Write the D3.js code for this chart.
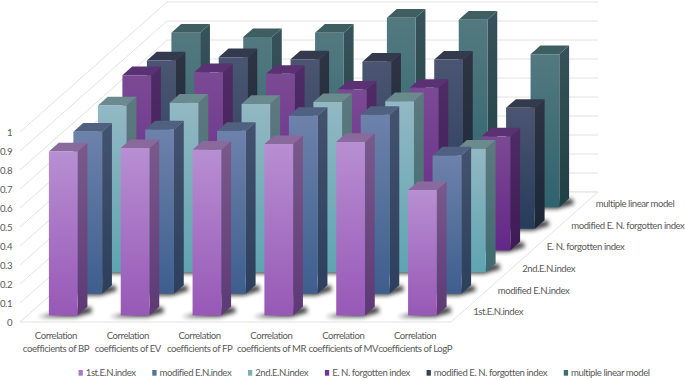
<!DOCTYPE html>
<html>
<head>
<meta charset="utf-8">
<script src="https://cdn.jsdelivr.net/npm/d3@7"></script>
<style>
  html, body { margin: 0; background: #fff; }
  text { font-family: Lato, "Open Sans", sans-serif; fill: #5a5a5a; font-size: 9.6px; letter-spacing: -0.45px; }
</style>
</head>
<body>
<div id="chart"></div>
<script>
const widthValue = 685;
const heightValue = 380;

const categories = ["BP", "EV", "FP", "MR", "MV", "LogP"];
const seriesNames = ["1st.E.N.index", "modified E.N.index", "2nd.E.N.index", "E. N. forgotten index", "modified E. N. forgotten index", "multiple linear model"];
const yTicks = [0, 0.1, 0.2, 0.3, 0.4, 0.5, 0.6, 0.7, 0.8, 0.9, 1];

const firstIndex = [0.863, 0.881, 0.873, 0.902, 0.913, 0.66];
const modifiedIndex = [0.853, 0.865, 0.858, 0.937, 0.942, 0.728];
const secondIndex = [0.877, 0.892, 0.885, 0.895, 0.90, 0.65];
const forgottenIndex = [0.923, 0.938, 0.93, 0.847, 0.856, 0.60];
const modifiedForgotten = [0.886, 0.903, 0.892, 0.88, 0.891, 0.637];
const linearModel = [0.918, 0.895, 0.918, 0.997, 0.987, 0.805];
const seriesValues = [firstIndex, modifiedIndex, secondIndex, forgottenIndex, modifiedForgotten, linearModel];

// front, side, top colours: [upper, lower]
const frontColors = [["#b88fd2", "#9758b6"], ["#6d82ab", "#3e5e8e"], ["#92b8c3", "#5fa4b1"], ["#7b4a94", "#632788"], ["#4b5572", "#273b5b"], ["#53797f", "#2e636f"]];
const sideColors = [["#7a5a8c", "#5d3975"], ["#44526e", "#2c3f5c"], ["#5c7a7e", "#3e6a70"], ["#502c66", "#3e1a56"], ["#2e3444", "#1b2737"], ["#37525a", "#1f4045"]];
const topColors = ["#8a6a9c", "#4f6080", "#6b8a8e", "#5a3172", "#343a4e", "#3e5e62"];
const legendColors = ["#a878c8", "#5472a0", "#7db0bc", "#6d3890", "#33415f", "#3f6f78"];

// projection: category runs along x, series runs into the page
const floor = {x: 20, y: 322, w: 431, dx: 147, dy: 130, h: 190};

const xBand = d3.scaleBand().domain(categories).range([0, floor.w]).paddingInner(0.6).paddingOuter(0.3);
const zBand = d3.scaleBand().domain(seriesNames).range([0, 1]).paddingInner(0.6).paddingOuter(0.3);
const yScale = d3.scaleLinear().domain([0, 1]).range([0, floor.h]);

function project(x, z, v) {
  return [floor.x + x + z * floor.dx, floor.y - z * floor.dy - yScale(v)];
}

const svg = d3.select("#chart")
  .append("svg")
  .attr("width", widthValue)
  .attr("height", heightValue)
  .attr("viewBox", `0 0 ${widthValue} ${heightValue}`)
  .style("display", "block");

const defs = svg.append("defs");
defs.append("filter").attr("id", "soft").attr("x", "-40%").attr("y", "-60%").attr("width", "180%").attr("height", "220%")
  .append("feGaussianBlur").attr("stdDeviation", 2.2);

function addGradient(id, stops) {
  const g = defs.append("linearGradient").attr("id", id).attr("x1", 0).attr("x2", 0).attr("y1", 0).attr("y2", 1);
  g.append("stop").attr("offset", "0%").attr("stop-color", stops[0]);
  g.append("stop").attr("offset", "100%").attr("stop-color", stops[1]);
}
seriesNames.forEach((s, i) => {
  addGradient("front" + i, frontColors[i]);
  addGradient("side" + i, sideColors[i]);
});

const line = d3.line();
const poly = pts => line(pts) + "Z";

// walls and floor
const grid = svg.append("g").attr("fill", "none").attr("stroke", "#e2e2e2").attr("stroke-width", 1);
yTicks.forEach(t => {
  grid.append("path").attr("d", line([project(0, 0, t), project(0, 1, t), project(floor.w, 1, t)]));
});
grid.append("path").attr("d", poly([project(0, 0, 0), project(floor.w, 0, 0), project(floor.w, 1, 0), project(0, 1, 0)]))
  .attr("fill", "#fff");

// bars, back row first
d3.range(seriesNames.length - 1, -1, -1).forEach(si => {
  const name = seriesNames[si];
  const z0 = zBand(name);
  const z1 = z0 + zBand.bandwidth();
  const row = svg.append("g").attr("class", "row");

  categories.forEach(c => {
    const x0 = xBand(c);
    const x1 = x0 + xBand.bandwidth();
    row.append("path")
      .attr("d", poly([project(x0 - 9, z0 - 0.012, 0), project(x1, z0 - 0.012, 0), project(x1 + 11, z0 + 0.025, 0), project(x1 + 3, z1, 0), project(x0, z0 + 0.01, 0)]))
      .attr("fill", "#222")
      .attr("opacity", 0.85)
      .attr("filter", "url(#soft)");
  });

  categories.forEach((c, ci) => {
    const v = seriesValues[si][ci];
    const x0 = xBand(c);
    const x1 = x0 + xBand.bandwidth();
    row.append("path")
      .attr("d", poly([project(x1, z0, 0), project(x1, z1, 0), project(x1, z1, v), project(x1, z0, v)]))
      .attr("fill", `url(#side${si})`);
    row.append("path")
      .attr("d", poly([project(x0, z0, v), project(x1, z0, v), project(x1, z1, v), project(x0, z1, v)]))
      .attr("fill", topColors[si]);
    row.append("path")
      .attr("d", poly([project(x0, z0, 0), project(x1, z0, 0), project(x1, z0, v), project(x0, z0, v)]))
      .attr("fill", `url(#front${si})`);
  });
});

// value axis
svg.append("g").selectAll("text")
  .data(yTicks)
  .join("text")
  .attr("x", 12)
  .attr("y", d => project(0, 0, d)[1] + 3.5)
  .attr("text-anchor", "end")
  .text(d => d);

// category labels
const catLabels = svg.append("g").selectAll("text")
  .data(categories)
  .join("text")
  .attr("text-anchor", "middle")
  .attr("transform", d => `translate(${floor.x + xBand(d) + xBand.bandwidth() / 2},338.5)`);
catLabels.append("tspan").attr("x", 0).text("Correlation");
catLabels.append("tspan").attr("x", 0).attr("dy", 13).text(d => "coefficients of " + d);

// series labels along the right floor edge
svg.append("g").selectAll("text")
  .data(seriesNames)
  .join("text")
  .attr("x", d => project(floor.w, zBand(d) + zBand.bandwidth() / 2, 0)[0] + 10)
  .attr("y", d => project(floor.w, zBand(d) + zBand.bandwidth() / 2, 0)[1] + 4)
  .text(d => d);

// legend
const legend = svg.append("g");
let legendX = 78.5;
seriesNames.forEach((s, i) => {
  legend.append("rect").attr("x", legendX).attr("y", 370).attr("width", 4.3).attr("height", 5.7).attr("fill", legendColors[i]);
  const t = legend.append("text").attr("x", legendX + 7.3).attr("y", 376).text(s);
  legendX += 7.3 + t.node().getComputedTextLength() + 16.7;
});
</script>
</body>
</html>
